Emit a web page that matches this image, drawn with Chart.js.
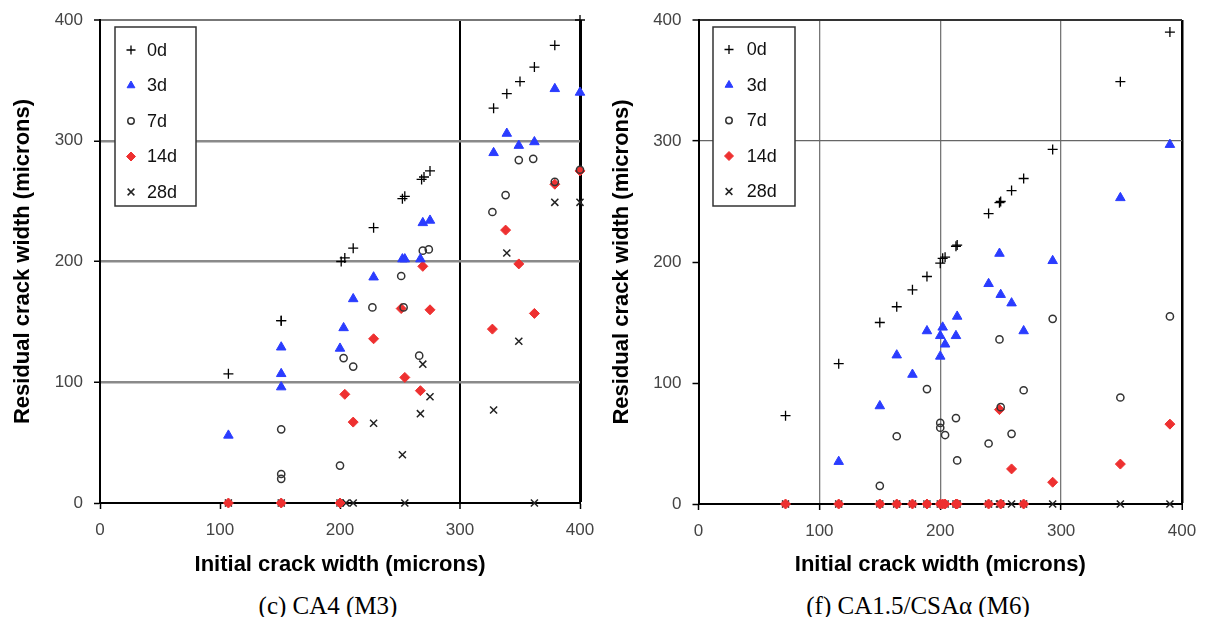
<!DOCTYPE html>
<html><head><meta charset="utf-8">
<script src="https://cdn.jsdelivr.net/npm/chart.js@4.4.1/dist/chart.umd.min.js"></script>
<style>
html,body{margin:0;padding:0;background:#fff}
body{width:1207px;height:617px;overflow:hidden;position:relative}
#c1{position:absolute;left:0;top:0}
#c2{position:absolute;left:600px;top:0}
.cap{position:absolute;top:593px;font-family:"Liberation Serif","Times New Roman",serif;font-size:25px;line-height:25px;white-space:nowrap;transform:translateX(-50%);color:#000}
</style></head>
<body>
<canvas id="c1" width="600" height="590"></canvas>
<canvas id="c2" width="607" height="590"></canvas>
<div class="cap" style="left:328px">(c) CA4 (M3)</div>
<div class="cap" style="left:918px">(f) CA1.5/CSAα (M6)</div>
<script>
// ---------- Data: (c) CA4 (M3) ----------
const seriesNames = ['0d', '3d', '7d', '14d', '28d'];
const xTicks = [0, 100, 200, 300, 400];
const yTicks = [0, 100, 200, 300, 400];

const c_0d_x = [107,151,151,201,204,211,228,252,254,268,270,275,328,339,350,362,379,400];
const c_0d_y = [107,151,151,200,203,211,228,252,254,268,270,275,327,339,349,361,379,400];
const c_3d_x = [107,151,151,151,200,203,211,228,252,254,267,269,275,328,339,349,362,379,400];
const c_3d_y = [56,129,107,96,128,145,169,187,202,202,202,232,234,290,306,296,299,343,340];
const c_7d_x = [151,151,151,200,203,211,227,251,253,266,269,274,327,338,349,361,379,400];
const c_7d_y = [61,24,20,31,120,113,162,188,162,122,209,210,241,255,284,285,266,276];
const c_14d_x = [107,151,200,204,211,228,251,254,267,269,275,327,338,349,362,379,400];
const c_14d_y = [0,0,0,90,67,136,161,104,93,196,160,144,226,198,157,264,275];
const c_28d_x = [107,151,200,205,211,228,252,254,267,269,275,328,339,349,362,379,400];
const c_28d_y = [0,0,0,0,0,66,40,0,74,115,88,77,207,134,0,249,249];

// ---------- Data: (f) CA1.5/CSAα (M6) ----------
const f_0d_x = [72,116,150,164,177,189,200,202,204,213,214,240,249,250,259,269,293,349,390];
const f_0d_y = [73,116,150,163,177,188,199,203,204,213,214,240,249,250,259,269,293,349,390];
const f_3d_x = [116,150,164,177,189,200,200,202,204,213,214,240,249,250,259,269,293,349,390];
const f_3d_y = [35,81,123,107,143,122,139,146,132,139,155,182,207,173,166,143,201,253,297];
const f_7d_x = [150,164,189,200,200,204,213,214,240,249,250,259,269,293,349,390];
const f_7d_y = [15,56,95,67,63,57,71,36,50,136,80,58,94,153,88,155];
const f_14d_x = [72,116,150,164,177,189,200,202,204,213,214,240,249,250,259,269,293,349,390];
const f_14d_y = [0,0,0,0,0,0,0,0,0,0,0,0,78,0,29,0,18,33,66];
const f_28d_x = [72,116,150,164,177,189,200,202,204,213,214,240,249,250,259,269,293,349,390];
const f_28d_y = [0,0,0,0,0,0,0,0,0,0,0,0,0,0,0,0,0,0,0];

const xTitle = 'Initial crack width (microns)';
const yTitle = 'Residual crack width (microns)';

// ---------- Styles ----------
const SANS = '"Liberation Sans", Arial, Helvetica, sans-serif';
const styles = [
  {pointStyle:'cross', radius:5, backgroundColor:'#000', borderColor:'#000', borderWidth:1.3},
  {pointStyle:'triangle', radius:5.5, backgroundColor:'#2a3cff', borderColor:'#2a3cff', borderWidth:1},
  {pointStyle:'circle', radius:3.6, backgroundColor:'rgba(0,0,0,0)', borderColor:'#333', borderWidth:1.5},
  {pointStyle:'rectRot', radius:5, backgroundColor:'#ee3030', borderColor:'#ee3030', borderWidth:1},
  {pointStyle:'crossRot', radius:5, backgroundColor:'#222', borderColor:'#222', borderWidth:1.5}
];

function pts(xs, ys){ return xs.map((x,i)=>({x:x, y:ys[i]})); }

function makeDatasets(list){
  return list.map((d,i)=>({
    label: seriesNames[i],
    data: pts(d[0], d[1]),
    pointStyle: styles[i].pointStyle,
    pointRadius: styles[i].radius,
    pointBackgroundColor: styles[i].backgroundColor,
    pointBorderColor: styles[i].borderColor,
    pointBorderWidth: styles[i].borderWidth,
    pointHoverRadius: styles[i].radius,
    showLine: false,
    clip: false
  }));
}

// legend marker drawing
function drawMarker(ctx, st, x, y, r){
  ctx.save();
  ctx.fillStyle = st.backgroundColor; ctx.strokeStyle = st.borderColor; ctx.lineWidth = st.borderWidth;
  ctx.beginPath();
  switch(st.pointStyle){
    case 'cross':
      ctx.moveTo(x-r,y); ctx.lineTo(x+r,y); ctx.moveTo(x,y-r); ctx.lineTo(x,y+r); ctx.stroke(); break;
    case 'crossRot':
      const d = r*0.75;
      ctx.moveTo(x-d,y-d); ctx.lineTo(x+d,y+d); ctx.moveTo(x+d,y-d); ctx.lineTo(x-d,y+d); ctx.stroke(); break;
    case 'triangle':
      ctx.moveTo(x, y-r); ctx.lineTo(x+r*0.866, y+r*0.5); ctx.lineTo(x-r*0.866, y+r*0.5); ctx.closePath(); ctx.fill(); ctx.stroke(); break;
    case 'circle':
      ctx.arc(x,y,r*0.72,0,Math.PI*2); ctx.stroke(); break;
    case 'rectRot':
      ctx.moveTo(x,y-r); ctx.lineTo(x+r,y); ctx.lineTo(x,y+r); ctx.lineTo(x-r,y); ctx.closePath(); ctx.fill(); ctx.stroke(); break;
  }
  ctx.restore();
}

const boxLegend = {
  id: 'boxLegend',
  afterDatasetsDraw(chart, args, opts){
    const ctx = chart.ctx;
    ctx.save();
    ctx.fillStyle = '#fff';
    ctx.fillRect(opts.x, opts.y, opts.w, opts.h);
    ctx.strokeStyle = '#333'; ctx.lineWidth = 1.5;
    ctx.strokeRect(opts.x, opts.y, opts.w, opts.h);
    ctx.font = '18px ' + SANS;
    ctx.textBaseline = 'middle';
    ctx.textAlign = 'left';
    seriesNames.forEach((n,i)=>{
      const yy = opts.y + opts.first + i*opts.step;
      drawMarker(ctx, styles[i], opts.mx, yy, 4.5);
      ctx.fillStyle = '#111';
      ctx.fillText(n, opts.tx, yy + 1);
    });
    ctx.restore();
  }
};

function makeChart(id, data, cfg){
  const tr = 'rgba(0,0,0,0)';
  return new Chart(document.getElementById(id), {
    type: 'scatter',
    data: { datasets: makeDatasets(data) },
    plugins: [boxLegend],
    options: {
      responsive: false,
      animation: false,
      events: [],
      layout: { padding: { left: 0, right: cfg.padRight, top: 20, bottom: 0 } },
      plugins: {
        legend: { display: false },
        tooltip: { enabled: false },
        boxLegend: cfg.legend
      },
      scales: {
        x: {
          type: 'linear', min: 0, max: 400,
          afterBuildTicks: s => { s.ticks = xTicks.map(v=>({value:v})); },
          afterFit: s => { s.height = cfg.xHeight; s.paddingLeft = 0; s.paddingRight = 0; },
          ticks: { color: '#444', font: { size: 17, family: SANS }, padding: 11, maxRotation: 0 },
          grid: {
            color: c => cfg.xGrid(c.tick ? c.tick.value : null) ? cfg.xGrid(c.tick.value)[0] : tr,
            lineWidth: c => cfg.xGrid(c.tick ? c.tick.value : null) ? cfg.xGrid(c.tick.value)[1] : 1,
            tickColor: '#000', tickWidth: 1.5, tickLength: 6, drawTicks: true
          },
          border: { color: '#000', width: 2 },
          title: { display: true, text: xTitle, color: '#000', font: { size: 22, weight: 'bold', family: SANS }, padding: { top: 0, bottom: 12 } }
        },
        y: {
          type: 'linear', min: 0, max: 400,
          afterBuildTicks: s => { s.ticks = yTicks.map(v=>({value:v})); },
          afterFit: s => { s.width = cfg.yWidth; s.paddingTop = 0; s.paddingBottom = 0; },
          ticks: { color: '#444', font: { size: 17, family: SANS }, padding: 11 },
          grid: {
            color: c => cfg.yGrid(c.tick ? c.tick.value : null) ? cfg.yGrid(c.tick.value)[0] : tr,
            lineWidth: c => cfg.yGrid(c.tick ? c.tick.value : null) ? cfg.yGrid(c.tick.value)[1] : 1,
            tickColor: '#000', tickWidth: 1.5, tickLength: 6, drawTicks: true
          },
          border: { color: '#000', width: 2 },
          title: { display: true, text: yTitle, color: '#000', font: { size: 22, weight: 'bold', family: SANS }, padding: { top: cfg.yTitlePad, bottom: 0 } }
        }
      }
    }
  });
}

makeChart('c1', [[c_0d_x,c_0d_y],[c_3d_x,c_3d_y],[c_7d_x,c_7d_y],[c_14d_x,c_14d_y],[c_28d_x,c_28d_y]], {
  padRight: 20, xHeight: 87, yWidth: 100, yTitlePad: 10,
  xGrid: v => v===300 ? ['#000',2] : v===400 ? ['#000',3] : null,
  yGrid: v => (v===100||v===200||v===300) ? ['#8a8a8a',2.5] : v===400 ? ['#777',2] : null,
  legend: { x: 115, y: 27, w: 81, h: 179, first: 23, step: 35.5, mx: 131, tx: 147 }
});

makeChart('c2', [[f_0d_x,f_0d_y],[f_3d_x,f_3d_y],[f_7d_x,f_7d_y],[f_14d_x,f_14d_y],[f_28d_x,f_28d_y]], {
  padRight: 25, xHeight: 86, yWidth: 98.5, yTitlePad: 9,
  xGrid: v => (v===100||v===200||v===300) ? ['#777',1.3] : v===400 ? ['#000',2.5] : null,
  yGrid: v => v===300 ? ['#666',1.3] : v===400 ? ['#333',2] : null,
  legend: { x: 113, y: 27, w: 82, h: 179, first: 22.5, step: 35.5, mx: 129, tx: 146.7 }
});
</script>
</body></html>
